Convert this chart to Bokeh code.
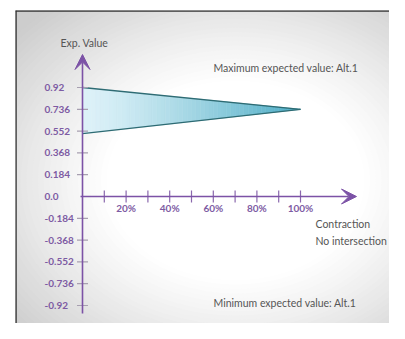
import numpy as np
from bokeh.plotting import figure
from bokeh.models import Range1d, Span, Arrow, VeeHead, ColumnDataSource
from bokeh.embed import file_html
from bokeh.resources import INLINE
from bokeh.core.properties import value

# ---------------- data ----------------
pct = [0, 100]                      # contraction level (%)
upper = [0.92, 0.736]               # upper expected value bound
lower = [0.53, 0.736]               # lower expected value bound
y_ticks = [0.92, 0.736, 0.552, 0.368, 0.184, 0.0, -0.184, -0.368, -0.552, -0.736, -0.92]
y_tick_labels = ["0.92", "0.736", "0.552", "0.368", "0.184", "0.0",
                 "-0.184", "-0.368", "-0.552", "-0.736", "-0.92"]
x_ticks = [10, 20, 30, 40, 50, 60, 70, 80, 90, 100]
x_label_pos = [20, 40, 60, 80, 100]
x_tick_labels = ["20%", "40%", "60%", "80%", "100%"]
y_title = "Exp. Value"
note_max = "Maximum expected value: Alt.1"
note_min = "Minimum expected value: Alt.1"
note_side = ["Contraction", "No intersection"]

# ---------------- layout (pixel mapping) ----------------
W, H = 389, 323
ML, MT = 15, 10
SX, SY = 2.18, 118.5           # px per data unit
AX, AY = 82, 196               # canvas position of the origin
def dx(px): return (px - AX) / SX
def dy(py): return (AY - py) / SY

PURPLE = "#7c52a6"
LABEL = "#7d5ba3"
GRAY_TXT = "#555555"
FONT = "Lato"

p = figure(width=W, height=H, output_backend="svg", toolbar_location=None,
           x_range=Range1d(dx(ML), dx(W)),
           y_range=Range1d(dy(H), dy(MT)),
           min_border_left=ML, min_border_top=MT, min_border_right=0, min_border_bottom=0,
           x_axis_type=None, y_axis_type=None)
p.grid.visible = False
p.outline_line_color = None
p.border_fill_color = "white"
p.background_fill_color = "#cdcdcd"

# radial background (decoration)
n = 45
cx, cy = dx(235), dy(180)
ws, hs, cols = [], [], []
for i in range(n):
    r = 1.35 - (1.35 - 0.4) * i / (n - 1)
    k = min(1.0, max(0.0, (r - 0.48) / 0.62))
    g = int(round(255 - (255 - 205) * k ** 1.15))
    ws.append(2 * 265 * r / SX); hs.append(2 * 205 * r / SY)
    cols.append("#%02x%02x%02x" % (g, g, g))
p.ellipse(x=[cx] * n, y=[cy] * n, width=ws, height=hs, fill_color=cols, line_color=None)

# frame border (top & left)
p.add_layout(Span(location=p.y_range.end, dimension="width", line_color="#333333", line_width=2.5))
p.add_layout(Span(location=p.x_range.start, dimension="height", line_color="#333333", line_width=2.5))

# gradient fill of the triangle (strips between the bounds)
c0 = np.array([0xde, 0xf2, 0xf9]); c1 = np.array([0x4c, 0xad, 0xc6])
xs_s, ys_s, cs = [], [], []
m = 50
for i in range(m):
    a = pct[0] + (pct[1] - pct[0]) * i / m
    b = pct[0] + (pct[1] - pct[0]) * (i + 1) / m
    ua, ub = np.interp([a, b], pct, upper)
    la, lb = np.interp([a, b], pct, lower)
    xs_s.append([a, b, b, a]); ys_s.append([ua, ub, lb, la])
    t = (i + 0.5) / m
    c = c0 + (c1 - c0) * t ** 1.3
    cs.append("#%02x%02x%02x" % tuple(int(v) for v in c))
p.patches(xs_s, ys_s, fill_color=cs, line_color=cs, line_width=0.6)
# outline
p.line(pct, upper, line_color="#2e6b73", line_width=1.3)
p.line(pct, lower, line_color="#2e6b73", line_width=1.3)

# axes with arrows
p.add_layout(Arrow(x_start=0, y_start=dy(313), x_end=0, y_end=dy(54),
                   line_color=PURPLE, line_width=1.6,
                   end=VeeHead(size=15, fill_color=PURPLE, line_color=PURPLE)))
p.add_layout(Arrow(x_start=dx(80), y_start=0, x_end=dx(356), y_end=0,
                   line_color=PURPLE, line_width=1.6,
                   end=VeeHead(size=15, fill_color=PURPLE, line_color=PURPLE)))

# y ticks + labels
yt = [v for v in y_ticks if v != 0]
p.scatter(x=[0] * len(yt), y=yt, marker="dash", size=11, line_color="#a79fb0", line_width=1.2)
p.text(x=[0] * len(y_ticks), y=y_ticks, text=y_tick_labels, x_offset=-38,
       text_align="left", text_baseline="middle", text_font=value(FONT),
       text_font_style="bold", text_font_size="10px", text_color=LABEL)

# x ticks + labels
p.scatter(x=x_ticks, y=[0] * len(x_ticks), marker="dash", angle=np.pi / 2, size=12,
          line_color="#8a68ad", line_width=1.2)
p.text(x=x_label_pos, y=[0] * len(x_label_pos), text=x_tick_labels, y_offset=11,
       text_align="center", text_baseline="middle", text_font=value(FONT),
       text_font_style="bold", text_font_size="10px", text_color=LABEL)

# annotations
src = ColumnDataSource(dict(
    x=[dx(60), dx(213), dx(315), dx(315), dx(213)],
    y=[dy(42), dy(67), dy(223), dy(240), dy(302)],
    t=[y_title, note_max, note_side[0], note_side[1], note_min]))
p.text(x="x", y="y", text="t", source=src, text_align="left", text_baseline="middle",
       text_font=value(FONT), text_font_size="10.5px", text_color=GRAY_TXT)

open("out.html", "w").write(file_html(p, INLINE))
